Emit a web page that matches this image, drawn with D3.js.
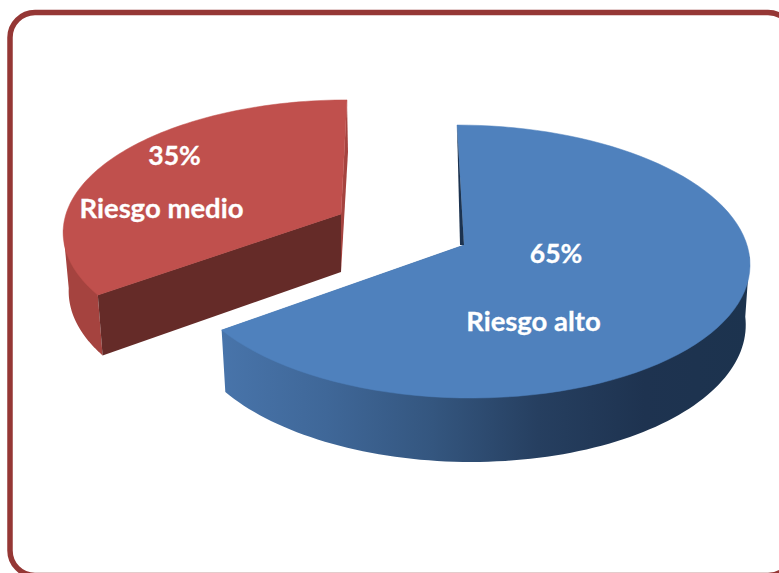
<!DOCTYPE html>
<html>
<head>
<meta charset="utf-8">
<script src="https://cdn.jsdelivr.net/npm/d3@7"></script>
<style>
body { margin: 0; background: #fff; }
svg { display: block; }
text { font-family: Lato, sans-serif; font-weight: bold; fill: #fff; stroke: #fff; stroke-width: 0.3; text-anchor: middle; }
</style>
</head>
<body>
<svg id="chart" width="779" height="573"></svg>
<script>
// values
var categories = ["Riesgo alto", "Riesgo medio"];
var values = [65, 35];
var percentLabels = ["65%", "35%"];

var svg = d3.select("#chart");

// card outline, runs off the right and bottom of the window
svg.append("rect")
    .attr("x", 10).attr("y", 12.5)
    .attr("width", 783).attr("height", 563)
    .attr("rx", 25).attr("ry", 25)
    .attr("fill", "#fff")
    .attr("stroke", "#953735")
    .attr("stroke-width", 5.5);

var pie = d3.pie().sort(null).value(function(d) { return d; });
var arcs = pie(values);

// how each slice sits on the page (the red one is pulled out)
var slices = [
    { cx: 464, cy: 245, rx: 283, ry: 134.5, k: 0.121, shear: -7, depth: 59.5, ringX: 0.985, ringY: 1.029,
      top: "#4f81bd" },
    { cx: 341, cy: 214, rx: 275, ry: 128, k: 0.122, shear: 6, depth: 58, ringX: 0.98, ringY: 1.029,
      top: "#c0504d", wall: "#a5433f", face: "#652b28", sliver: "#a5433f" }
];

// angle on the pie -> point on the page, ring=true for the lower edge of the wall
function project(s, angle, ring) {
    var u = Math.sin(angle), v = Math.cos(angle);
    var w = 1 + s.k * v;
    var x = s.cx + (ring ? s.ringX : 1) * s.rx * u / w + s.shear * v;
    var y = s.cy - (ring ? s.ringY : 1) * s.ry * v / w + (ring ? s.depth : 0);
    return [x, y];
}

function arcPoints(s, a0, a1, ring) {
    var n = 90;
    return d3.range(n + 1).map(function(i) {
        return project(s, a0 + (a1 - a0) * i / n, ring);
    });
}

var line = d3.line();
function poly(points, fill) {
    return svg.append("path")
        .attr("d", line(points) + "Z")
        .attr("fill", fill);
}

// outer wall: lower edge plus a tuck under the top face, so no seam shows along the rim
function wall(s, a0, a1, fill) {
    var apex = [s.cx, s.cy];
    return poly([project(s, a0, false)]
        .concat(arcPoints(s, a0, a1, true))
        .concat([project(s, a1, false), apex]), fill);
}

function topFace(s, a0, a1) {
    return poly([[s.cx, s.cy]].concat(arcPoints(s, a0, a1, false)), s.top)
        .attr("stroke", s.top)
        .attr("stroke-width", 0.5);
}

var deg = Math.PI / 180;

// gradient along the blue wall
var wallColors = ["#4874aa", "#3f6798", "#34567f", "#263f60", "#1e3350", "#1c334e"];
var grad = svg.append("defs").append("linearGradient").attr("id", "blueWall");
grad.selectAll("stop").data(wallColors).enter().append("stop")
    .attr("offset", function(d, i) { return i / (wallColors.length - 1); })
    .attr("stop-color", function(d) { return d; });

// red slice
var red = slices[1], ra = arcs[1];
wall(red, ra.startAngle, 263 * deg, red.wall);
var redApex = [red.cx, red.cy], redApexLow = [red.cx, red.cy + red.depth];
var redRim = project(red, ra.endAngle, false);
poly([redRim, [redRim[0] + 1, redRim[1] + 52], redApexLow, redApex], red.sliver);
poly([project(red, ra.startAngle, false), redApex, redApexLow, project(red, ra.startAngle, true)], red.face);
topFace(red, ra.startAngle, ra.endAngle);

// blue slice
var blue = slices[0], ba = arcs[0];
wall(blue, 95 * deg, ba.endAngle, "url(#blueWall)");
var blueApex = [blue.cx, blue.cy];
topFace(blue, ba.startAngle, ba.endAngle);
poly([project(blue, ba.startAngle, false), blueApex, [blue.cx - 4, blue.cy]], "#1c3350");

// labels
var labelPos = [
    { x: 556, pctY: 263, nameX: 533.5, nameY: 331 },
    { x: 174.5, pctY: 165, nameX: 161.5, nameY: 217.5 }
];
categories.forEach(function(name, i) {
    svg.append("text").attr("x", labelPos[i].x).attr("y", labelPos[i].pctY)
        .attr("font-size", 26.5).text(percentLabels[i]);
    svg.append("text").attr("x", labelPos[i].nameX).attr("y", labelPos[i].nameY)
        .attr("font-size", 27.5).text(name);
});
</script>
</body>
</html>
